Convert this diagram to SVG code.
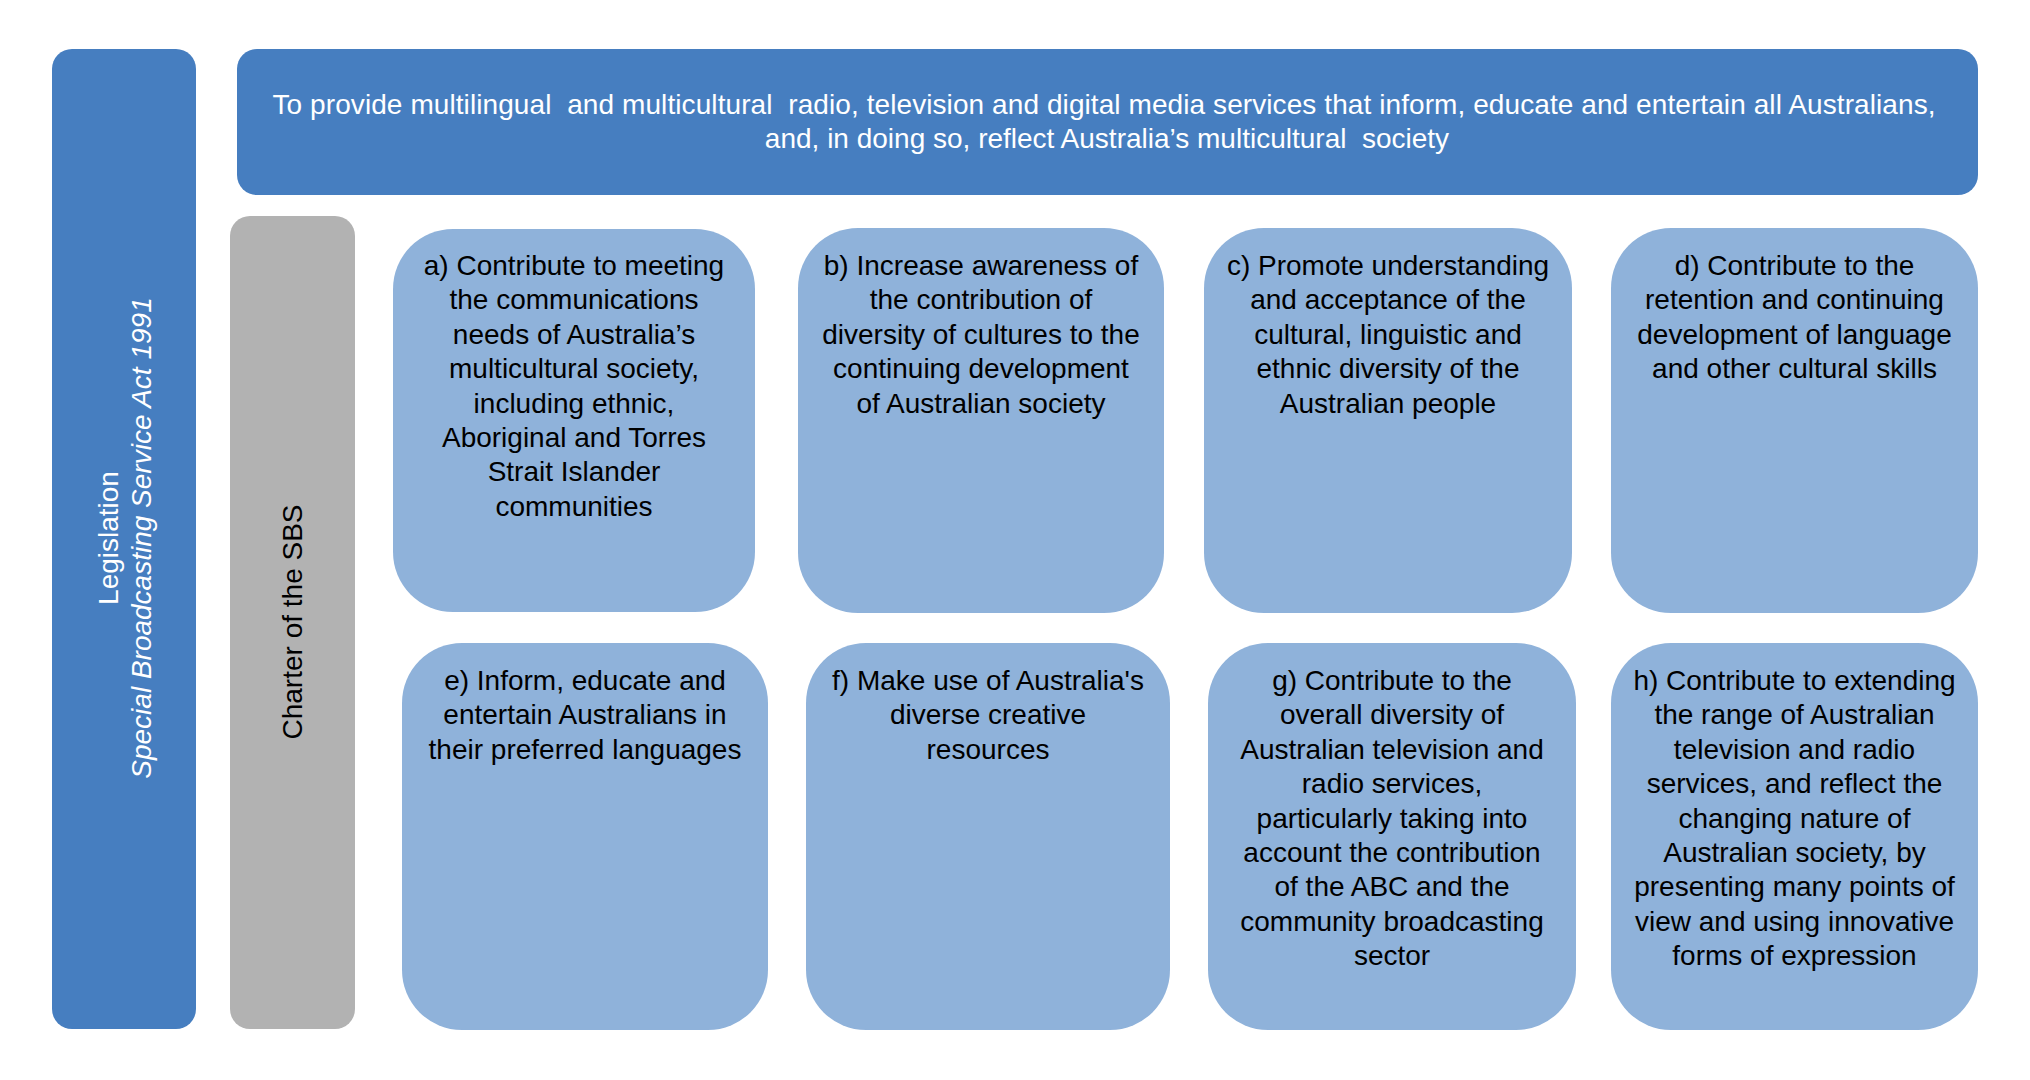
<svg xmlns="http://www.w3.org/2000/svg" width="2030" height="1080" viewBox="0 0 2030 1080">
<style>
.dark{fill:#467EC0}
.gray{fill:#B2B2B2}
.lb{fill:#8FB2DA}
.t{font-family:"Liberation Sans",Arial,sans-serif;font-size:28px;fill:#000;text-anchor:middle}
.w{fill:#fff}
.pre{white-space:pre}
</style>
<rect width="2030" height="1080" fill="#fff"/>
<g id="legislation">
<rect class="dark" x="52" y="49" width="144" height="980" rx="20"/>
<text class="t w" transform="translate(118,538) rotate(-90)">Legislation</text>
<text class="t w" font-style="italic" transform="translate(151,538) rotate(-90)">Special Broadcasting Service Act 1991</text>
</g>
<g id="purpose">
<rect class="dark" x="237" y="49" width="1741" height="146" rx="20"/>
<text class="t w pre" xml:space="preserve" x="1104" y="113.5" textLength="1663">To provide multilingual  and multicultural  radio, television and digital media services that inform, educate and entertain all Australians,</text>
<text class="t w pre" xml:space="preserve" x="1107" y="148">and, in doing so, reflect Australia’s multicultural  society</text>
</g>
<g id="charter">
<rect class="gray" x="230" y="216" width="125" height="813" rx="20"/>
<text class="t" transform="translate(302,622) rotate(-90)">Charter of the SBS</text>
</g>
<g id="a">
<rect class="lb" x="393" y="229" width="362" height="383" rx="60"/>
<text class="t" x="574" y="275">a) Contribute to meeting<tspan x="574" dy="34.4">the communications</tspan><tspan x="574" dy="34.4">needs of Australia’s</tspan><tspan x="574" dy="34.4">multicultural society,</tspan><tspan x="574" dy="34.4">including ethnic,</tspan><tspan x="574" dy="34.4">Aboriginal and Torres</tspan><tspan x="574" dy="34.4">Strait Islander</tspan><tspan x="574" dy="34.4">communities</tspan></text>
</g>
<g id="b">
<rect class="lb" x="798" y="228" width="366" height="385" rx="60"/>
<text class="t" x="981" y="275">b) Increase awareness of<tspan x="981" dy="34.4">the contribution of</tspan><tspan x="981" dy="34.4">diversity of cultures to the</tspan><tspan x="981" dy="34.4">continuing development</tspan><tspan x="981" dy="34.4">of Australian society</tspan></text>
</g>
<g id="c">
<rect class="lb" x="1204" y="228" width="368" height="385" rx="60"/>
<text class="t" x="1388" y="275">c) Promote understanding<tspan x="1388" dy="34.4">and acceptance of the</tspan><tspan x="1388" dy="34.4">cultural, linguistic and</tspan><tspan x="1388" dy="34.4">ethnic diversity of the</tspan><tspan x="1388" dy="34.4">Australian people</tspan></text>
</g>
<g id="d">
<rect class="lb" x="1611" y="228" width="367" height="385" rx="60"/>
<text class="t" x="1794.5" y="275">d) Contribute to the<tspan x="1794.5" dy="34.4">retention and continuing</tspan><tspan x="1794.5" dy="34.4">development of language</tspan><tspan x="1794.5" dy="34.4">and other cultural skills</tspan></text>
</g>
<g id="e">
<rect class="lb" x="402" y="643" width="366" height="387" rx="60"/>
<text class="t" x="585" y="690">e) Inform, educate and<tspan x="585" dy="34.4">entertain Australians in</tspan><tspan x="585" dy="34.4">their preferred languages</tspan></text>
</g>
<g id="f">
<rect class="lb" x="806" y="643" width="364" height="387" rx="60"/>
<text class="t" x="988" y="690">f) Make use of Australia's<tspan x="988" dy="34.4">diverse creative</tspan><tspan x="988" dy="34.4">resources</tspan></text>
</g>
<g id="g">
<rect class="lb" x="1208" y="643" width="368" height="387" rx="60"/>
<text class="t" x="1392" y="690">g) Contribute to the<tspan x="1392" dy="34.4">overall diversity of</tspan><tspan x="1392" dy="34.4">Australian television and</tspan><tspan x="1392" dy="34.4">radio services,</tspan><tspan x="1392" dy="34.4">particularly taking into</tspan><tspan x="1392" dy="34.4">account the contribution</tspan><tspan x="1392" dy="34.4">of the ABC and the</tspan><tspan x="1392" dy="34.4">community broadcasting</tspan><tspan x="1392" dy="34.4">sector</tspan></text>
</g>
<g id="h">
<rect class="lb" x="1611" y="643" width="367" height="387" rx="60"/>
<text class="t" x="1794.5" y="690">h) Contribute to extending<tspan x="1794.5" dy="34.4">the range of Australian</tspan><tspan x="1794.5" dy="34.4">television and radio</tspan><tspan x="1794.5" dy="34.4">services, and reflect the</tspan><tspan x="1794.5" dy="34.4">changing nature of</tspan><tspan x="1794.5" dy="34.4">Australian society, by</tspan><tspan x="1794.5" dy="34.4">presenting many points of</tspan><tspan x="1794.5" dy="34.4">view and using innovative</tspan><tspan x="1794.5" dy="34.4">forms of expression</tspan></text>
</g>
<g id="connectors"></g>
</svg>
